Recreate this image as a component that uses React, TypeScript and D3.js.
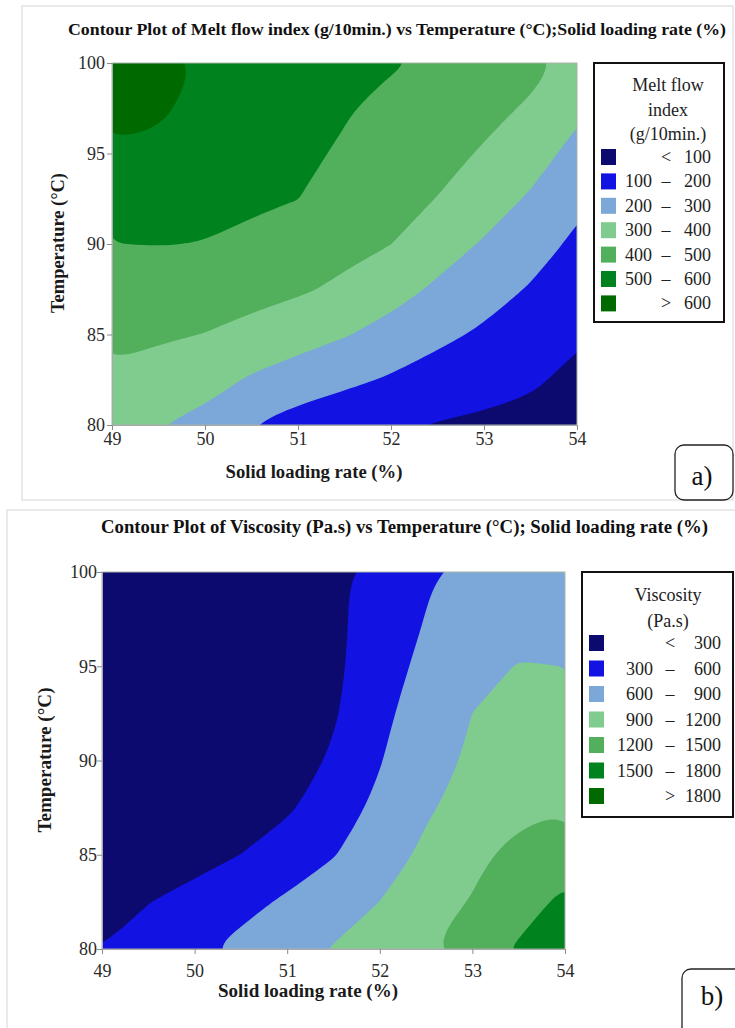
import React, { useEffect, useRef } from "react";
import * as d3 from "d3";

// grid of the fitted surface
const loadingRate = [49, 49.5, 50, 50.5, 51, 51.5, 52, 52.5, 53, 53.5, 54];
const temperature = [80, 82.5, 85, 87.5, 90, 92.5, 95, 97.5, 100];

// melt flow index (g/10min.), one row per temperature, columns follow loadingRate
const mfiRows = [
  [347, 302, 272, 200, 159, 134, 118, 95, 84, 73, 43],
  [385, 358, 335, 289, 252, 221, 190, 159, 135, 113, 78],
  [423, 412, 398, 371, 340, 306, 266, 222, 186, 153, 113],
  [461, 457, 449, 432, 412, 384, 337, 285, 238, 193, 147],
  [499, 502, 498, 482, 456, 423, 401, 342, 292, 241, 182],
  [544, 539, 524, 513, 501, 452, 427, 398, 342, 290, 223],
  [589, 579, 548, 534, 517, 490, 452, 427, 392, 340, 271],
  [631, 615, 571, 554, 534, 507, 478, 454, 423, 390, 319],
  [674, 652, 585, 573, 551, 530, 508, 485, 451, 425, 375],
];

// viscosity (Pa.s), same layout
const viscosityRows = [
  [305, 425, 550, 673, 794, 916, 1050, 1184, 1350, 1532, 1810],
  [180, 293, 407, 520, 639, 770, 902, 1060, 1220, 1389, 1557],
  [100, 130, 190, 302, 443, 586, 769, 951, 1122, 1300, 1377],
  [90, 110, 150, 210, 260, 460, 662, 871, 987, 1110, 1190],
  [60, 70, 80, 95, 108, 348, 586, 796, 939, 1016, 1093],
  [65, 75, 85, 95, 110, 268, 536, 733, 902, 948, 995],
  [85, 90, 95, 100, 115, 235, 485, 666, 789, 915, 898],
  [90, 95, 100, 105, 120, 240, 429, 609, 699, 789, 880],
  [95, 100, 105, 110, 125, 242, 404, 567, 687, 796, 905],
];

const mfiLevels = [100, 200, 300, 400, 500, 600];
const viscosityLevels = [300, 600, 900, 1200, 1500, 1800];
const xTicks = [49, 50, 51, 52, 53, 54];
const yTicks = [80, 85, 90, 95, 100];

const bandColors = ["#0c0a6e", "#1212e2", "#7ba7d9", "#80cc8f", "#52af5b", "#00821f", "#006a00"];

const SERIF = "'Liberation Serif', 'Times New Roman', serif";

const panelA = {
  id: "a",
  plot: { left: 112, right: 577, top: 63, bottom: 425 },
  frame: { x: 22, y: 6, w: 711, h: 494 },
  title: { x: 68, y: 35, len: 658, size: 17.5 },
  xLabel: { cx: 314, y: 478, len: 177 },
  yLabel: { x: 64, cy: 243, len: 140 },
  xTickBase: 445,
  yTickRight: 105,
  legend: { x: 594, y: 63, w: 130, h: 259, titleY: [91, 116, 140], cx: 668, swX: 601, row0: 157, step: 24.4, lowR: 652, dash: 666, highR: 711 },
  tag: { x: 675, y: 445, w: 58, h: 55, cx: 702, ty: 485 },
};

const panelB = {
  id: "b",
  plot: { left: 102, right: 565, top: 572, bottom: 949 },
  frame: { x: 7, y: 510, w: 745, h: 530 },
  title: { x: 101, y: 533, len: 607, size: 18 },
  xLabel: { cx: 308, y: 997, len: 180 },
  yLabel: { x: 51, cy: 760, len: 145 },
  xTickBase: 977,
  yTickRight: 97,
  legend: { x: 582, y: 572, w: 151, h: 245, titleY: [601, 627], cx: 668, swX: 589, row0: 643, step: 25.5, lowR: 653, dash: 670, highR: 721 },
  tag: { x: 682, y: 969, w: 62, h: 72, cx: 712, ty: 1005 },
};

function ContourPanel({ layout, rows, levels, title, legendTitle, tagText }) {
  const ref = useRef(null);

  useEffect(() => {
    const g = d3.select(ref.current);
    g.selectAll("*").remove();
    const { plot } = layout;

    const x = d3.scaleLinear().domain([49, 54]).range([plot.left, plot.right]);
    const y = d3.scaleLinear().domain([80, 100]).range([plot.bottom, plot.top]);

    const n = loadingRate.length;
    const m = temperature.length;
    const stepX = loadingRate[1] - loadingRate[0];
    const stepY = temperature[1] - temperature[0];
    // d3.contours puts sample i at grid coordinate i + 0.5
    const gx = (c) => x(loadingRate[0] + (c - 0.5) * stepX);
    const gy = (r) => y(temperature[0] + (r - 0.5) * stepY);

    const contours = d3.contours().size([n, m]).thresholds(levels)(rows.flat());

    const clipId = "clip-" + layout.id;
    g.append("defs")
      .append("clipPath")
      .attr("id", clipId)
      .append("rect")
      .attr("x", plot.left)
      .attr("y", plot.top)
      .attr("width", plot.right - plot.left)
      .attr("height", plot.bottom - plot.top);

    const body = g.append("g").attr("clip-path", `url(#${clipId})`);
    body
      .append("rect")
      .attr("x", plot.left)
      .attr("y", plot.top)
      .attr("width", plot.right - plot.left)
      .attr("height", plot.bottom - plot.top)
      .attr("fill", bandColors[0]);

    // rounded band edges, like the fitted surface in the original
    const smooth = d3.line().curve(d3.curveBasisClosed);
    contours.forEach((c, i) => {
      const d = c.coordinates
        .map((poly) =>
          poly.map((ring) => smooth(ring.slice(0, -1).map(([cx, cy]) => [gx(cx), gy(cy)]))).join("")
        )
        .join("");
      if (!d) return;
      body.append("path").attr("d", d).attr("fill", bandColors[i + 1]).attr("fill-rule", "evenodd");
    });

    g.append("rect")
      .attr("x", plot.left)
      .attr("y", plot.top)
      .attr("width", plot.right - plot.left)
      .attr("height", plot.bottom - plot.top)
      .attr("fill", "none")
      .attr("stroke", "#a9b3a9")
      .attr("stroke-width", 1);

    const xAxis = g
      .append("g")
      .attr("transform", `translate(0,${plot.bottom})`)
      .call(d3.axisBottom(x).tickValues(xTicks).tickSize(5).tickSizeOuter(0).tickFormat(d3.format("d")));
    const yAxis = g
      .append("g")
      .attr("transform", `translate(${plot.left},0)`)
      .call(d3.axisLeft(y).tickValues(yTicks).tickSize(5).tickSizeOuter(0).tickFormat(d3.format("d")));

    [xAxis, yAxis].forEach((ax) => {
      ax.select(".domain").attr("stroke", "#a9a9a9");
      ax.selectAll(".tick line").attr("stroke", "#8a8a8a");
      ax.selectAll(".tick text")
        .attr("font-family", SERIF)
        .attr("font-size", 18)
        .attr("fill", "#2a2a2a");
    });
    xAxis.selectAll(".tick text").attr("y", layout.xTickBase - plot.bottom).attr("dy", 0);
    yAxis
      .selectAll(".tick text")
      .attr("x", layout.yTickRight - plot.left)
      .attr("dy", "0.33em");
  }, [layout, rows, levels]);

  const { legend, tag, frame } = layout;
  const labels = levels.length + 1;

  return (
    <g>
      <rect x={frame.x} y={frame.y} width={frame.w} height={frame.h} fill="#fff" stroke="#dcdcdc" strokeWidth={1.2} />
      <text
        x={layout.title.x}
        y={layout.title.y}
        fontFamily={SERIF}
        fontWeight="bold"
        fontSize={layout.title.size}
        fill="#111"
        textLength={layout.title.len}
        lengthAdjust="spacingAndGlyphs"
      >
        {title}
      </text>
      <g ref={ref} />
      <text
        x={layout.xLabel.cx - layout.xLabel.len / 2}
        y={layout.xLabel.y}
        fontFamily={SERIF}
        fontWeight="bold"
        fontSize={18}
        fill="#1a1a1a"
        textLength={layout.xLabel.len}
        lengthAdjust="spacingAndGlyphs"
      >
        Solid loading rate (%)
      </text>
      <text
        transform={`translate(${layout.yLabel.x},${layout.yLabel.cy + layout.yLabel.len / 2}) rotate(-90)`}
        fontFamily={SERIF}
        fontWeight="bold"
        fontSize={18}
        fill="#1a1a1a"
        textLength={layout.yLabel.len}
        lengthAdjust="spacingAndGlyphs"
      >
        Temperature (°C)
      </text>

      <rect x={legend.x} y={legend.y} width={legend.w} height={legend.h} fill="#fff" stroke="#111" strokeWidth={2} />
      {legendTitle.map((t, i) => (
        <text key={t} x={legend.cx} y={legend.titleY[i]} textAnchor="middle" fontFamily={SERIF} fontSize={18} fill="#222">
          {t}
        </text>
      ))}
      {d3.range(labels).map((i) => {
        const cy = legend.row0 + i * legend.step;
        const lo = i === 0 ? null : levels[i - 1];
        const hi = i === labels - 1 ? null : levels[i];
        return (
          <g key={i} fontFamily={SERIF} fontSize={18} fill="#222">
            <rect x={legend.swX} y={cy - 8} width={15} height={16} fill={bandColors[i]} />
            {lo !== null && hi !== null && (
              <>
                <text x={legend.lowR} y={cy + 6} textAnchor="end">{lo}</text>
                <text x={legend.dash} y={cy + 6} textAnchor="middle">–</text>
                <text x={legend.highR} y={cy + 6} textAnchor="end">{hi}</text>
              </>
            )}
            {lo === null && (
              <>
                <text x={legend.dash} y={cy + 6} textAnchor="middle">&lt;</text>
                <text x={legend.highR} y={cy + 6} textAnchor="end">{hi}</text>
              </>
            )}
            {hi === null && (
              <>
                <text x={legend.dash} y={cy + 6} textAnchor="middle">&gt;</text>
                <text x={legend.highR} y={cy + 6} textAnchor="end">{lo}</text>
              </>
            )}
          </g>
        );
      })}

      <rect x={tag.x} y={tag.y} width={tag.w} height={tag.h} rx={9} fill="#fff" stroke="#222" strokeWidth={1.3} />
      <text x={tag.cx} y={tag.ty} textAnchor="middle" fontFamily={SERIF} fontSize={27} fill="#111">
        {tagText}
      </text>
    </g>
  );
}

export default function App() {
  return (
    <svg
      width={735}
      height={1028}
      style={{ position: "absolute", left: 0, top: 0, background: "#fff" }}
    >
      <rect width={735} height={1028} fill="#fff" />
      <ContourPanel
        layout={panelA}
        rows={mfiRows}
        levels={mfiLevels}
        title="Contour Plot of Melt flow index (g/10min.) vs Temperature (°C);Solid loading rate (%)"
        legendTitle={["Melt flow", "index", "(g/10min.)"]}
        tagText="a)"
      />
      <ContourPanel
        layout={panelB}
        rows={viscosityRows}
        levels={viscosityLevels}
        title="Contour Plot of Viscosity (Pa.s) vs Temperature (°C); Solid loading rate (%)"
        legendTitle={["Viscosity", "(Pa.s)"]}
        tagText="b)"
      />
    </svg>
  );
}
